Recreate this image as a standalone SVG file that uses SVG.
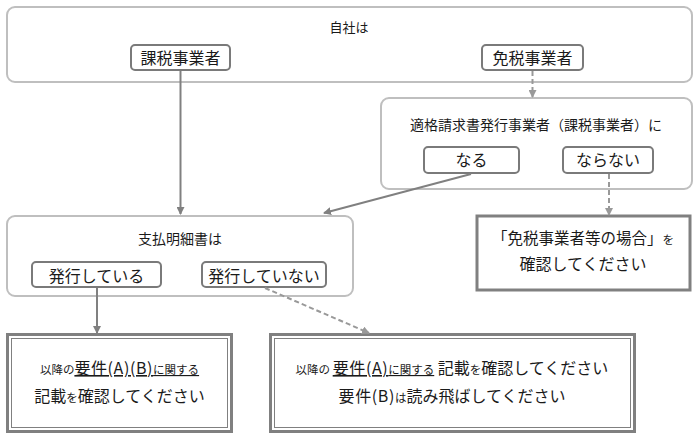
<svg xmlns="http://www.w3.org/2000/svg" width="698" height="439" viewBox="0 0 698 439">
<defs>
<style>
text{font-family:"Noto Sans CJK JP","Noto Sans",sans-serif;fill:#1a1a1a;text-anchor:middle}
.grp{fill:#fff;stroke:#bfbfbf;stroke-width:2}
.btn{fill:#fff;stroke:#7a7a7a;stroke-width:2}
.res{fill:#fff;stroke:#808080;stroke-width:3}
.inner{fill:none;stroke:#808080;stroke-width:1}
.c{fill:none;stroke:#808080;stroke-width:2}
.d{fill:none;stroke:#999;stroke-width:2;stroke-dasharray:5 3}
.s{font-size:11.5px}
.u{text-decoration:underline}
.w{letter-spacing:0.6px}
</style>
<marker id="a" markerWidth="8" markerHeight="8" refX="7" refY="4" orient="auto" markerUnits="userSpaceOnUse">
<path d="M0,0 L8,4 L0,8 Z" fill="#808080"/>
</marker>
<marker id="ad" markerWidth="8" markerHeight="8" refX="7" refY="4" orient="auto" markerUnits="userSpaceOnUse">
<path d="M0,0 L8,4 L0,8 Z" fill="#999"/>
</marker>
</defs>
<rect width="698" height="439" fill="#fff"/>

<g id="jisha">
<rect class="grp" x="7" y="7" width="685" height="75" rx="8"/>
<text x="349" y="32" font-size="13">自社は</text>
</g>
<g id="kazei">
<rect class="btn" x="131" y="45" width="99" height="25" rx="4"/>
<text x="180.5" y="64" font-size="16">課税事業者</text>
</g>
<g id="menzei">
<rect class="btn" x="482" y="45" width="101" height="25" rx="4"/>
<text x="532.5" y="64" font-size="16">免税事業者</text>
</g>

<g id="tekikaku">
<rect class="grp" x="381" y="98" width="311" height="91" rx="8"/>
<text x="536" y="130" font-size="14">適格請求書発行事業者（課税事業者）に</text>
</g>
<g id="naru">
<rect class="btn" x="424" y="147" width="95" height="26" rx="4"/>
<text x="471.5" y="166" font-size="16">なる</text>
</g>
<g id="naranai">
<rect class="btn" x="563" y="147" width="90" height="26" rx="4"/>
<text x="608" y="166" font-size="16">ならない</text>
</g>

<g id="menzeito">
<rect class="res" x="477" y="216" width="213" height="74"/>
<text x="583" y="244" font-size="15.5">「免税事業者等の場合」<tspan class="s">を</tspan></text>
<text x="583" y="270" font-size="16">確認してください</text>
</g>

<g id="shiharai">
<rect class="grp" x="7" y="216" width="346" height="80" rx="8"/>
<text x="180" y="244" font-size="14">支払明細書は</text>
</g>
<g id="hakko">
<rect class="btn" x="32" y="262" width="129" height="25" rx="4"/>
<text x="96.5" y="282" font-size="16">発行している</text>
</g>
<g id="hakkonai">
<rect class="btn" x="202" y="262" width="124" height="25" rx="4"/>
<text x="264" y="282" font-size="16">発行していない</text>
</g>

<g id="resultAB">
<rect class="res" x="7.5" y="334.5" width="224" height="97"/>
<rect class="inner" x="11.5" y="338.5" width="216" height="89"/>
<text x="119.5" y="374" font-size="16"><tspan class="s">以降の</tspan><tspan class="u w">要件(A)(B)</tspan><tspan class="s u">に関する</tspan></text>
<text x="119.5" y="402" font-size="16">記載<tspan class="s">を</tspan>確認してください</text>
</g>

<g id="resultA">
<rect class="res" x="270.5" y="334.5" width="364" height="97"/>
<rect class="inner" x="274.5" y="338.5" width="356" height="89"/>
<text x="452" y="374" font-size="16"><tspan class="s">以降の </tspan><tspan class="u w">要件(A)</tspan><tspan class="s u">に関する</tspan> 記載<tspan class="s">を</tspan>確認してください</text>
<text x="452" y="402" font-size="16"><tspan class="w">要件(B)</tspan><tspan class="s">は</tspan>読み飛ばしてください</text>
</g>

<g id="connectors">
<path class="c" d="M180.5,71 V214" marker-end="url(#a)"/>
<path class="d" d="M532.5,71 V97" marker-end="url(#ad)"/>
<path class="c" d="M471,174 L324,213" marker-end="url(#a)"/>
<path class="d" d="M609,174 V215" marker-end="url(#ad)"/>
<path class="c" d="M97,288 V333" marker-end="url(#a)"/>
<path class="d" d="M265,288 L369,333" marker-end="url(#ad)"/>
</g>
</svg>
